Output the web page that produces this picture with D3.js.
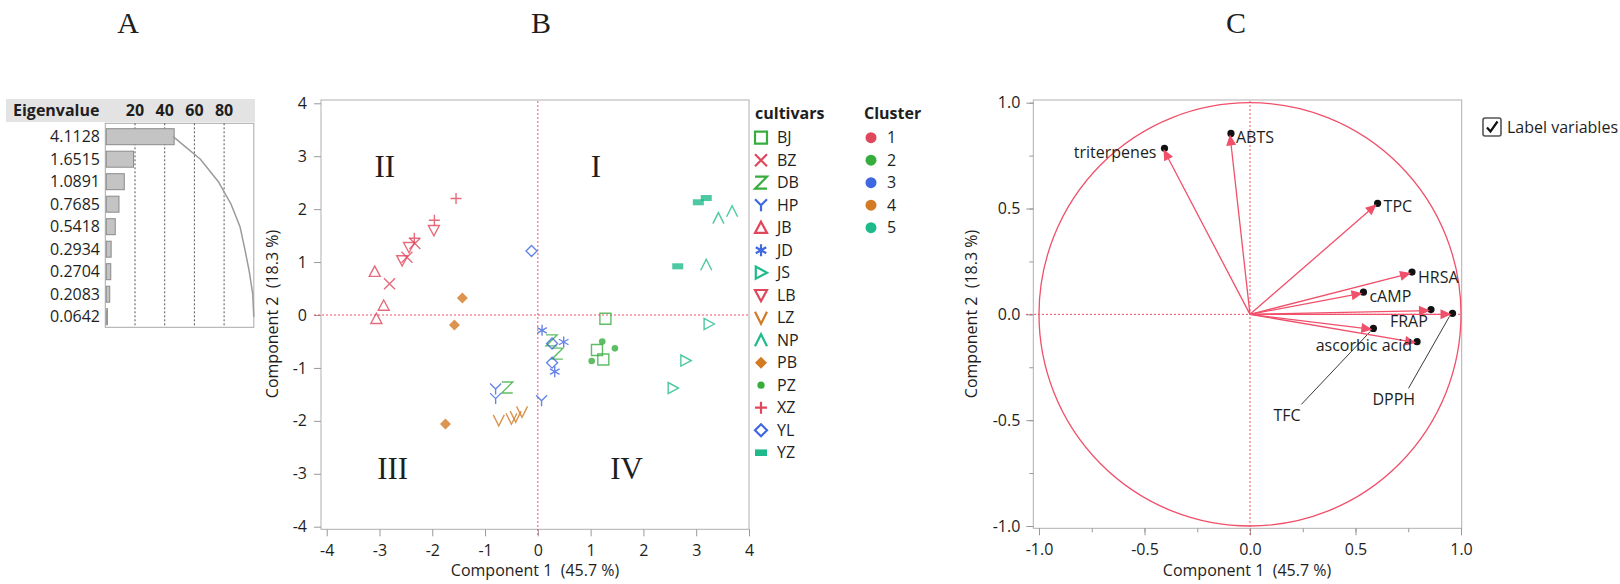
<!DOCTYPE html>
<html>
<head>
<meta charset="utf-8">
<script src="https://cdn.jsdelivr.net/npm/d3@7"></script>
<style>
body { margin: 0; background: #fff; }
svg { display: block; }
text { font-family: "Open Sans", sans-serif; fill: #1e1e1e; white-space: pre; }
</style>
</head>
<body>
<div id="chart"></div>
<script>
// panel A - eigenvalues
const eigenvalues = [4.1128, 1.6515, 1.0891, 0.7685, 0.5418, 0.2934, 0.2704, 0.2083, 0.0642]
const eigenTicks = [20, 40, 60, 80]

// panel B - scores
const cultivars = ["BJ", "BZ", "DB", "HP", "JB", "JD", "JS", "LB", "LZ", "NP", "PB", "PZ", "XZ", "YL", "YZ"]
const cultivarCluster = [2, 1, 2, 3, 1, 3, 5, 1, 4, 5, 4, 2, 1, 3, 5]
const clusters = [1, 2, 3, 4, 5]
const scoreCultivar = ["BJ","BJ","BJ", "BZ","BZ","BZ", "DB","DB","DB", "HP","HP","HP", "JB","JB","JB",
	"JD","JD","JD", "JS","JS","JS", "LB","LB","LB", "LZ","LZ","LZ","LZ", "NP","NP","NP",
	"PB","PB","PB", "PZ","PZ","PZ", "XZ","XZ","XZ", "YL","YL","YL", "YZ","YZ","YZ"]
const scorePC1 = [1.28, 1.12, 1.24, -2.33, -2.48, -2.81, 0.26, 0.37, -0.58, -0.80, -0.80, 0.07, -3.09, -2.92, -3.06,
	0.08, 0.49, 0.32, 3.24, 2.80, 2.56, -1.97, -2.44, -2.57, -0.74, -0.50, -0.42, -0.30, 3.68, 3.42, 3.19,
	-1.43, -1.58, -1.75, 1.22, 1.46, 1.02, -1.55, -1.96, -2.34, -0.12, 0.27, 0.27, 3.19, 3.04, 2.65]
const scorePC2 = [-0.07, -0.66, -0.84, 1.35, 1.09, 0.59, -0.48, -0.73, -1.37, -1.40, -1.58, -1.62, 0.82, 0.18, -0.07,
	-0.29, -0.51, -1.07, -0.17, -0.86, -1.38, 1.60, 1.28, 1.03, -1.99, -1.96, -1.92, -1.83, 1.96, 1.83, 0.95,
	0.32, -0.19, -2.06, -0.50, -0.63, -0.87, 2.20, 1.79, 1.45, 1.21, -0.54, -0.90, 2.21, 2.13, 0.92]
const scoreTicks = [-4, -3, -2, -1, 0, 1, 2, 3, 4]
const quadrants = ["I", "II", "III", "IV"]

// panel C - loadings
const variables = ["triterpenes", "ABTS", "TPC", "HRSA", "cAMP", "FRAP", "DPPH", "TFC", "ascorbic acid"]
const loadPC1 = [-0.41, -0.095, 0.60, 0.763, 0.533, 0.853, 0.955, 0.58, 0.787]
const loadPC2 = [0.78, 0.85, 0.52, 0.195, 0.10, 0.018, 0.0, -0.071, -0.134]
const loadTicks = [-1.0, -0.5, 0.0, 0.5, 1.0]

const red = "#f0506a"
const fontSize = 16
const hyphen = s => s.replace("\u2212", "-")

const svg = d3.select("#chart").append("svg")
	.attr("width", 1620)
	.attr("height", 584)

// panel letters
const letters = [["A", 128], ["B", 541], ["C", 1236]]
svg.selectAll(".letter").data(letters).enter().append("text")
	.attr("x", d => d[1]).attr("y", 33)
	.attr("text-anchor", "middle")
	.style("font-family", "'Liberation Serif', serif")
	.style("font-size", "30px")
	.text(d => d[0])

// ---------- A: eigenvalue bars ----------
const gA = svg.append("g")
const xPct = d3.scaleLinear().domain([0, 100]).range([105.3, 253.8])
const rowY = d3.scaleLinear().domain([0, 1]).range([136.7, 159.2])
const total = d3.sum(eigenvalues)
const pct = eigenvalues.map(v => v / total * 100)
const cum = d3.cumsum(pct)

gA.append("rect").attr("x", 6).attr("y", 99).attr("width", 249).attr("height", 23).attr("fill", "#e3e3e3")
gA.append("text").attr("x", 13).attr("y", 116).style("font-weight", "bold").style("font-size", fontSize + "px").text("Eigenvalue")
gA.selectAll(".ht").data(eigenTicks).enter().append("text")
	.attr("x", d => xPct(d)).attr("y", 116)
	.attr("text-anchor", "middle")
	.style("font-weight", "bold").style("font-size", fontSize + "px")
	.text(d => d)

gA.append("rect").attr("x", xPct(0)).attr("y", 123.3).attr("width", xPct(100) - xPct(0)).attr("height", 204)
	.attr("fill", "none").attr("stroke", "#a8a8a8")
gA.selectAll(".grid").data(eigenTicks).enter().append("line")
	.attr("x1", d => xPct(d)).attr("x2", d => xPct(d))
	.attr("y1", 123.3).attr("y2", 327.3)
	.attr("stroke", "#555").attr("stroke-dasharray", "2,2")

gA.selectAll(".bar").data(pct).enter().append("rect")
	.attr("x", xPct(0) + 1)
	.attr("y", (d, i) => rowY(i) - 8)
	.attr("width", d => xPct(d) - xPct(0))
	.attr("height", 16)
	.attr("fill", "#c4c4c4").attr("stroke", "#8a8a8a")

gA.append("path")
	.datum(cum)
	.attr("d", d3.line().x(d => xPct(d)).y((d, i) => rowY(i)))
	.attr("fill", "none").attr("stroke", "#9a9a9a").attr("stroke-width", 1.5)

gA.selectAll(".ev").data(eigenvalues).enter().append("text")
	.attr("x", 100).attr("y", (d, i) => rowY(i)).attr("dy", "0.35em")
	.attr("text-anchor", "end").style("font-size", fontSize + "px")
	.text(d => d.toFixed(4))

// ---------- B: score plot ----------
const gB = svg.append("g")
const x = d3.scaleLinear().domain([-4, 4]).range([326.7, 749])
const y = d3.scaleLinear().domain([-4, 4]).range([526.7, 103.3])
const color = d3.scaleOrdinal().domain(clusters).range(["#e0475d", "#37ad3e", "#3f67e0", "#d27a24", "#1fba8c"])
const shapeOf = d3.scaleOrdinal().domain(cultivars)
	.range(["square", "x", "z", "y", "triUp", "asterisk", "triRight", "triDown", "v", "lambda", "diamond", "dot", "plus", "diamondOpen", "rect"])
const filled = { diamond: true, dot: true, rect: true }

function shapePath(shape, r) {
	const h = r * 0.87
	switch (shape) {
		case "square": return `M${-r},${-r}H${r}V${r}H${-r}Z`
		case "x": return `M${-r},${-r}L${r},${r}M${-r},${r}L${r},${-r}`
		case "z": return `M${-r},${-r}H${r}L${-r},${r}H${r}`
		case "y": return `M${-r},${-r}L0,0L${r},${-r}M0,0V${r}`
		case "triUp": return `M0,${-r}L${r},${h}H${-r}Z`
		case "triDown": return `M0,${r}L${r},${-h}H${-r}Z`
		case "triRight": return `M${r},0L${-h},${r}V${-r}Z`
		case "asterisk": return `M0,${-r}V${r}M${-h},${-r / 2}L${h},${r / 2}M${-h},${r / 2}L${h},${-r / 2}`
		case "v": return `M${-r},${-r}L0,${r}L${r},${-r}`
		case "lambda": return `M${-r},${r}L0,${-r}L${r},${r}`
		case "diamond": return `M0,${-r}L${r},0L0,${r}L${-r},0Z`
		case "diamondOpen": return `M0,${-r}L${r},0L0,${r}L${-r},0Z`
		case "dot": { const c = r * 0.6; return `M${-c},0A${c},${c} 0 1,0 ${c},0A${c},${c} 0 1,0 ${-c},0Z` }
		case "plus": return `M${-r},0H${r}M0,${-r}V${r}`
		case "rect": return `M${-r},${-r * 0.55}H${r}V${r * 0.55}H${-r}Z`
	}
}

gB.append("rect").attr("x", 321).attr("y", 100).attr("width", 428).attr("height", 429.3)
	.attr("fill", "none").attr("stroke", "#b0b0b0")

gB.append("g").attr("transform", "translate(321,0)")
	.call(d3.axisLeft(y).tickValues(scoreTicks).tickSize(7).tickPadding(7).tickFormat(d => String(d)))
	.call(g => g.select(".domain").remove())
gB.append("g").attr("transform", "translate(0,529.3)")
	.call(d3.axisBottom(x).tickValues(scoreTicks).tickSize(7).tickPadding(8).tickFormat(d => String(d)))
	.call(g => g.select(".domain").remove())

gB.append("line").attr("x1", x(0)).attr("x2", x(0)).attr("y1", 101).attr("y2", 536).attr("stroke", red).attr("stroke-dasharray", "2,2")
gB.append("line").attr("x1", 314).attr("x2", 748).attr("y1", y(0)).attr("y2", y(0)).attr("stroke", red).attr("stroke-dasharray", "2,2")

gB.append("text").attr("x", 535).attr("y", 576).attr("text-anchor", "middle").style("font-size", fontSize + "px")
	.text("Component 1  (45.7 %)")
gB.append("text").attr("transform", "translate(278,314) rotate(-90)").attr("text-anchor", "middle").style("font-size", fontSize + "px")
	.text("Component 2  (18.3 %)")

// quadrant numerals
const quadPos = { I: [1.1, 2.6], II: [-2.9, 2.6], III: [-2.75, -3.1], IV: [1.68, -3.1] }
gB.selectAll(".quad").data(quadrants).enter().append("text")
	.attr("x", d => x(quadPos[d][0])).attr("y", d => y(quadPos[d][1]))
	.attr("text-anchor", "middle")
	.style("font-family", "'Liberation Serif', serif").style("font-size", "31px")
	.text(d => d)

const scores = scoreCultivar.map((c, i) => ({ c, pc1: scorePC1[i], pc2: scorePC2[i] }))
gB.selectAll(".pt").data(scores).enter().append("path")
	.attr("transform", d => `translate(${x(d.pc1)},${y(d.pc2)})`)
	.attr("d", d => shapePath(shapeOf(d.c), 5.5))
	.attr("fill", d => filled[shapeOf(d.c)] ? color(cultivarCluster[cultivars.indexOf(d.c)]) : "none")
	.attr("stroke", d => filled[shapeOf(d.c)] ? "none" : color(cultivarCluster[cultivars.indexOf(d.c)]))
	.attr("stroke-width", 1.4)
	.attr("opacity", 0.8)

// legends
const legY = d3.scaleLinear().domain([0, 1]).range([137.7, 160.2])
gB.append("text").attr("x", 755).attr("y", 119).style("font-weight", "bold").style("font-size", fontSize + "px").text("cultivars")
const leg = gB.selectAll(".leg").data(cultivars).enter().append("g")
	.attr("transform", (d, i) => `translate(761,${legY(i)})`)
leg.append("path")
	.attr("d", d => shapePath(shapeOf(d), 6))
	.attr("fill", (d, i) => filled[shapeOf(d)] ? color(cultivarCluster[i]) : "none")
	.attr("stroke", (d, i) => filled[shapeOf(d)] ? "none" : color(cultivarCluster[i]))
	.attr("stroke-width", 2.2)
leg.append("text").attr("x", 16).attr("dy", "0.35em").style("font-size", fontSize + "px").text(d => d)

gB.append("text").attr("x", 864).attr("y", 119).style("font-weight", "bold").style("font-size", fontSize + "px").text("Cluster")
const legC = gB.selectAll(".legc").data(clusters).enter().append("g")
	.attr("transform", (d, i) => `translate(871,${legY(i)})`)
legC.append("circle").attr("r", 5.5).attr("fill", d => color(d))
legC.append("text").attr("x", 16).attr("dy", "0.35em").style("font-size", fontSize + "px").text(d => d)

// ---------- C: loading plot ----------
const gC = svg.append("g")
const lx = d3.scaleLinear().domain([-1, 1]).range([1039, 1461])
const ly = d3.scaleLinear().domain([-1, 1]).range([526, 102.7])

gC.append("rect").attr("x", 1033.3).attr("y", 100).attr("width", 428.4).attr("height", 428.3)
	.attr("fill", "none").attr("stroke", "#b0b0b0")
const minor = d3.range(-1, 1.01, 0.25)
gC.append("g").attr("transform", "translate(1033.3,0)")
	.call(d3.axisLeft(ly).tickValues(minor).tickSize(4).tickFormat(""))
	.call(g => g.select(".domain").remove())
gC.append("g").attr("transform", "translate(0,528.3)")
	.call(d3.axisBottom(lx).tickValues(minor).tickSize(4).tickFormat(""))
	.call(g => g.select(".domain").remove())
const fmt1 = d3.format(".1f")
gC.append("g").attr("transform", "translate(1033.3,0)")
	.call(d3.axisLeft(ly).tickValues(loadTicks).tickSize(7).tickPadding(6).tickFormat(d => hyphen(fmt1(d))))
	.call(g => g.select(".domain").remove())
gC.append("g").attr("transform", "translate(0,528.3)")
	.call(d3.axisBottom(lx).tickValues(loadTicks).tickSize(7).tickPadding(8).tickFormat(d => hyphen(fmt1(d))))
	.call(g => g.select(".domain").remove())
svg.selectAll(".tick line").attr("stroke", "#999")
svg.selectAll(".tick text").style("font-size", fontSize + "px").attr("fill", "#1e1e1e")

gC.append("line").attr("x1", lx(0)).attr("x2", lx(0)).attr("y1", 101).attr("y2", 535).attr("stroke", red).attr("stroke-dasharray", "2,2")
gC.append("line").attr("x1", 1026).attr("x2", 1461).attr("y1", ly(0)).attr("y2", ly(0)).attr("stroke", red).attr("stroke-dasharray", "2,2")

gC.append("ellipse")
	.attr("cx", lx(0)).attr("cy", ly(0))
	.attr("rx", lx(1) - lx(0)).attr("ry", ly(-1) - ly(0))
	.attr("fill", "none").attr("stroke", red).attr("stroke-width", 1.3)

gC.append("text").attr("x", 1247).attr("y", 576).attr("text-anchor", "middle").style("font-size", fontSize + "px")
	.text("Component 1  (45.7 %)")
gC.append("text").attr("transform", "translate(977,314) rotate(-90)").attr("text-anchor", "middle").style("font-size", fontSize + "px")
	.text("Component 2  (18.3 %)")

const loads = variables.map((v, i) => ({ v, pc1: loadPC1[i], pc2: loadPC2[i] }))
// label placement relative to the arrow tip (px)
const labelPos = {
	"triterpenes": { dx: -7, dy: 3, anchor: "end" },
	"ABTS": { dx: 6, dy: 3, anchor: "start" },
	"TPC": { dx: 7, dy: 2, anchor: "start" },
	"HRSA": { dx: 7, dy: 4, anchor: "start" },
	"cAMP": { dx: 7, dy: 3, anchor: "start" },
	"FRAP": { dx: -40, dy: 11, anchor: "start" },
	"DPPH": { dx: -79, dy: 85, anchor: "start", leader: [36, -11] },
	"TFC": { dx: -99, dy: 86, anchor: "start", leader: [28, -11] },
	"ascorbic acid": { dx: -4, dy: 3, anchor: "end" }
}

gC.selectAll(".lead").data(loads.filter(d => labelPos[d.v].leader)).enter().append("line")
	.attr("x1", d => lx(d.pc1) + labelPos[d.v].dx + labelPos[d.v].leader[0])
	.attr("y1", d => ly(d.pc2) + labelPos[d.v].dy + labelPos[d.v].leader[1])
	.attr("x2", d => lx(d.pc1) - 2)
	.attr("y2", d => ly(d.pc2) + 2)
	.attr("stroke", "#3a3a3a").attr("stroke-width", 1)

gC.selectAll(".arr").data(loads).enter().append("line")
	.attr("x1", lx(0)).attr("y1", ly(0))
	.attr("x2", d => lx(d.pc1)).attr("y2", d => ly(d.pc2))
	.attr("stroke", red).attr("stroke-width", 1.3)
gC.selectAll(".tipdot").data(loads).enter().append("circle")
	.attr("cx", d => lx(d.pc1) + 1).attr("cy", d => ly(d.pc2) - 1)
	.attr("r", 3.6).attr("fill", "#111")
gC.selectAll(".head").data(loads).enter().append("path")
	.attr("transform", d => {
		const a = Math.atan2(ly(d.pc2) - ly(0), lx(d.pc1) - lx(0)) * 180 / Math.PI
		return `translate(${lx(d.pc1)},${ly(d.pc2)}) rotate(${a})`
	})
	.attr("d", "M-11,-5L0,0L-11,5Z").attr("fill", red)

gC.selectAll(".lbl").data(loads).enter().append("text")
	.attr("x", d => lx(d.pc1) + labelPos[d.v].dx)
	.attr("y", d => ly(d.pc2) + labelPos[d.v].dy)
	.attr("dy", "0.35em")
	.attr("text-anchor", d => labelPos[d.v].anchor)
	.style("font-size", fontSize + "px")
	.text(d => d.v)

// checkbox
const cb = svg.append("g").attr("transform", "translate(1483,118)")
cb.append("rect").attr("width", 18).attr("height", 18).attr("rx", 2)
	.attr("fill", "#fff").attr("stroke", "#555").attr("stroke-width", 1.6)
cb.append("path").attr("d", "M4,9.5L7.5,13.5L14.5,3.5").attr("fill", "none").attr("stroke", "#111").attr("stroke-width", 2.2)
cb.append("text").attr("x", 24).attr("y", 9).attr("dy", "0.35em").style("font-size", fontSize + "px").text("Label variables")
</script>
</body>
</html>
